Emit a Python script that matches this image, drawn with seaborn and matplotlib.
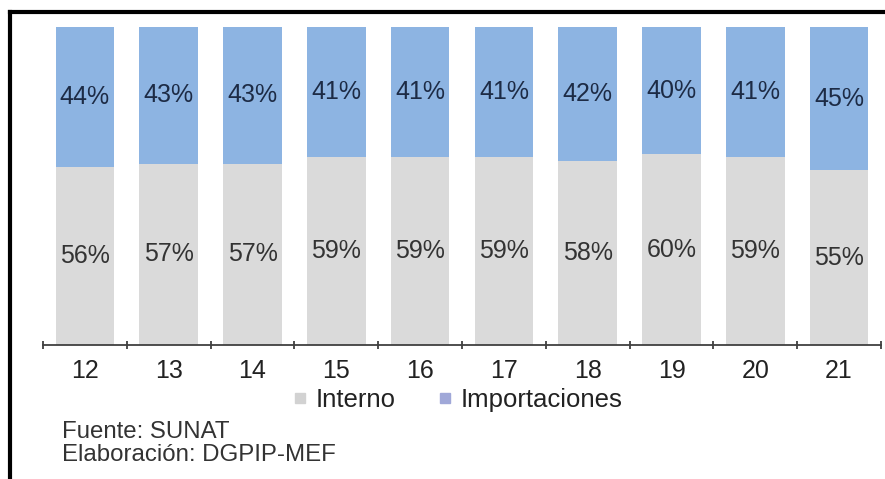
import numpy as np
import pandas as pd
import matplotlib
matplotlib.use("Agg")
import matplotlib.pyplot as plt
from matplotlib.lines import Line2D
import seaborn as sns

years = ["12", "13", "14", "15", "16", "17", "18", "19", "20", "21"]
interno = [56, 57, 57, 59, 59, 59, 58, 60, 59, 55]
importaciones = [44, 43, 43, 41, 41, 41, 42, 40, 41, 45]
legend_labels = ["Interno", "Importaciones"]
footer = ["Fuente: SUNAT", "Elaboración: DGPIP-MEF"]

sns.set_style("white")
plt.rcParams["font.family"] = ["Liberation Sans", "DejaVu Sans"]

c_int = "#DADADA"
c_imp = "#8DB4E2"
W, H = 885, 479
fig = plt.figure(figsize=(W / 100, H / 100), dpi=100)
ax = fig.add_axes([43 / W, (H - 345) / H, 838 / W, 318 / H])

df = pd.DataFrame({"year": years, "Interno": interno, "Importaciones": importaciones})
df["total"] = df["Interno"] + df["Importaciones"]

sns.barplot(data=df, x="year", y="total", color=c_imp, width=0.7, ax=ax,
            saturation=1, edgecolor="none", linewidth=0)
sns.barplot(data=df, x="year", y="Interno", color=c_int, width=0.7, ax=ax,
            saturation=1, edgecolor="none", linewidth=0)

for i, (a, b) in enumerate(zip(interno, importaciones)):
    ax.text(i, a + b / 2, f"{b}%", ha="center", va="center", fontsize=18, color="#1d2b45")
    ax.text(i, a / 2, f"{a}%", ha="center", va="center", fontsize=18, color="#333333")

ax.set_xlim(-0.5, len(years) - 0.5)
ax.set_ylim(0, 100)
ax.set_xlabel("")
ax.set_ylabel("")
ax.set_yticks([])
for s in ["left", "top", "right"]:
    ax.spines[s].set_visible(False)
ax.spines["bottom"].set_color("#404040")
ax.spines["bottom"].set_linewidth(1.3)
ax.set_xticks(range(len(years)))
ax.set_xticklabels(years)
ax.tick_params(axis="x", which="major", bottom=True, length=0, pad=10, labelsize=18, labelcolor="#222222")
ax.set_xticks(np.arange(-0.5, len(years)), minor=True)
ax.tick_params(axis="x", which="minor", bottom=True, length=6, width=1.3, direction="inout", color="#404040")

handles = [Line2D([], [], marker="s", linestyle="none", markersize=7.5, color="#D2D2D2"),
           Line2D([], [], marker="s", linestyle="none", markersize=7.5, color="#A0A8D8")]
fig.legend(handles, legend_labels, loc="center", bbox_to_anchor=(458 / W, 1 - 400 / H),
           ncol=2, frameon=False, fontsize=18.5, handlelength=0.5, handletextpad=0.33,
           columnspacing=1.7, labelcolor="#222222", borderpad=0.1)

fig.text(62 / W, 1 - 432 / H, footer[0], ha="left", va="center", fontsize=17.3, color="#333333")
fig.text(62 / W, 1 - 455 / H, footer[1], ha="left", va="center", fontsize=17.3, color="#333333")

# frame lines (left and top)
fig.add_artist(Line2D([9.5 / W, 9.5 / W], [0, 1 - 11.5 / H], transform=fig.transFigure,
                      color="black", linewidth=3, solid_capstyle="projecting"))
fig.add_artist(Line2D([9.5 / W, 1], [1 - 11.5 / H, 1 - 11.5 / H], transform=fig.transFigure,
                      color="black", linewidth=3, solid_capstyle="projecting"))

fig.savefig("out.png", dpi=100)
